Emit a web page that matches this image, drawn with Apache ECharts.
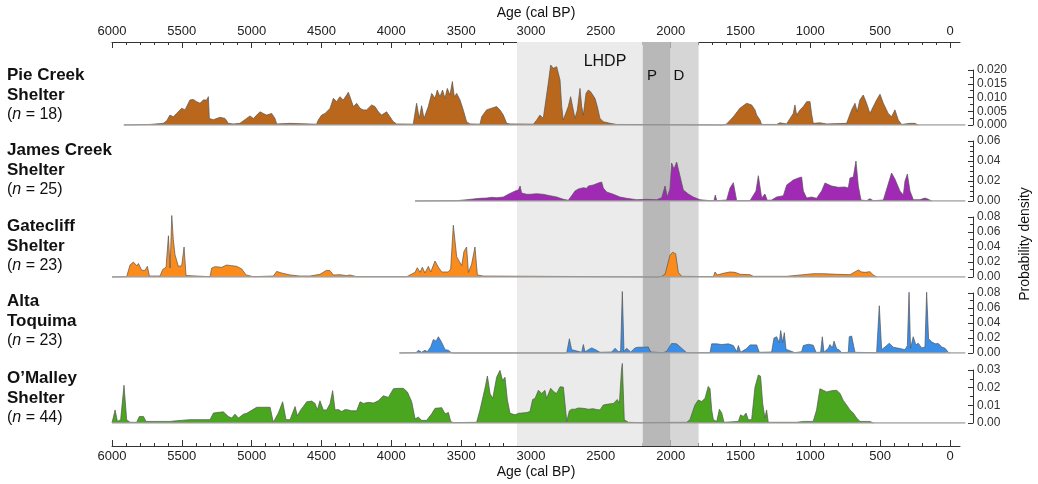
<!DOCTYPE html>
<html>
<head>
<meta charset="utf-8">
<script src="https://cdn.jsdelivr.net/npm/echarts@6/dist/echarts.min.js"></script>
<style>
html, body { margin: 0; padding: 0; background: #fff; }
#chart { width: 1038px; height: 484px; }
</style>
</head>
<body>
<div id="chart"></div>
<script>
// 各遗址概率密度 [年代 cal BP, 密度]
var pieCreek = [
    [5915,0],[5728,0.0002],[5633,0.0006],[5609,0.0015],[5585,0.0036],[5561,0.003],[5537,0.0042],[5501,0.0061],[5477,0.0055],[5442,0.0091],[5418,0.0093],[5394,0.0085],[5370,0.0079],[5346,0.0091],[5322,0.0091],[5310,0.0103],[5303,0.0024],[5275,0.0019],[5227,0.0028],[5191,0.0024],[5167,0.0006],[5131,0.0004],[5084,0.0006],[5036,0.0024],[5012,0.0033],[4988,0.0024],[4964,0.0036],[4940,0.0048],[4917,0.0042],[4893,0.0036],[4857,0.0042],[4833,0.0024],[4821,0.0004],[4726,0.0006],[4535,0.0003],[4523,0.0018],[4499,0.0036],[4475,0.0042],[4439,0.006],[4415,0.0097],[4392,0.0085],[4368,0.0103],[4344,0.0091],[4320,0.0109],[4308,0.0119],[4296,0.0103],[4272,0.0067],[4248,0.0079],[4224,0.0061],[4201,0.0055],[4177,0.0055],[4141,0.0073],[4117,0.0067],[4093,0.0048],[4069,0.0036],[4034,0.0048],[4010,0.003],[3986,0.0012],[3962,0.0004],[3843,0.0003],[3819,0.0079],[3800,0.0024],[3783,0.007],[3766,0.0024],[3735,0.0067],[3711,0.0115],[3699,0.0121],[3687,0.0097],[3671,0.0127],[3652,0.0103],[3633,0.0127],[3616,0.0097],[3599,0.0133],[3580,0.0109],[3563,0.0158],[3549,0.0103],[3532,0.0115],[3508,0.0091],[3485,0.0055],[3461,0.0012],[3437,0.0004],[3365,0.0003],[3353,0.003],[3318,0.0055],[3282,0.0061],[3246,0.0067],[3222,0.0055],[3198,0.0036],[3174,0.0006],[3150,0.0004],[2983,0.0003],[2959,0.0018],[2936,0.0036],[2912,0.0024],[2876,0.0152],[2859,0.0218],[2840,0.0206],[2816,0.0212],[2804,0.0206],[2792,0.0164],[2780,0.0067],[2769,0.0018],[2757,0.0012],[2733,0.0067],[2716,0.0103],[2702,0.0067],[2685,0.0024],[2668,0.0055],[2649,0.0133],[2637,0.0067],[2625,0.0036],[2606,0.0115],[2590,0.0127],[2573,0.0121],[2559,0.0127],[2542,0.0097],[2525,0.0067],[2506,0.0024],[2482,0.0012],[2434,0.0006],[2387,0.0002],[2375,0],[1620,0],[1599,0.0004],[1551,0.003],[1504,0.0061],[1456,0.0079],[1420,0.0073],[1396,0.0055],[1384,0.0036],[1372,0.0042],[1360,0.0018],[1349,0.0002],[1241,0.0002],[1217,0.0008],[1170,0.0004],[1122,0.0042],[1110,0.0073],[1098,0.0036],[1074,0.0055],[1050,0.0067],[1026,0.0085],[1002,0.0085],[991,0.0042],[979,0.0006],[931,0.0008],[883,0.0004],[740,0.0006],[704,0.0055],[680,0.0079],[664,0.0048],[645,0.0091],[621,0.0109],[597,0.0079],[573,0.0042],[549,0.0067],[525,0.0091],[501,0.0112],[477,0.0079],[442,0.0042],[418,0.003],[394,0.0055],[370,0.0018],[346,0.0002],[287,0.0006],[251,0.0006],[227,0]
];
var jamesCreek = [
    [3830,0],[3532,0.0003],[3460,0.0013],[3413,0.002],[3365,0.0027],[3317,0.003],[3281,0.0037],[3245,0.0033],[3198,0.004],[3162,0.0067],[3150,0.008],[3114,0.01],[3090,0.011],[3078,0.015],[3067,0.008],[3031,0.0067],[3007,0.0067],[2959,0.0073],[2912,0.0067],[2864,0.0053],[2816,0.004],[2768,0.0017],[2733,0.0007],[2709,0.0053],[2685,0.01],[2661,0.012],[2649,0.011],[2625,0.0133],[2601,0.0127],[2589,0.015],[2554,0.016],[2518,0.018],[2494,0.019],[2482,0.013],[2458,0.009],[2410,0.0067],[2363,0.004],[2315,0.0027],[2243,0.0013],[2172,0.0017],[2100,0.0013],[2064,0.0033],[2040,0.015],[2024,0.004],[2005,0.012],[1993,0.038],[1976,0.032],[1957,0.039],[1933,0.025],[1909,0.011],[1897,0.012],[1873,0.007],[1838,0.004],[1790,0.0013],[1718,0.0003],[1690,0.0003],[1680,0.006],[1670,0.0003],[1599,0.001],[1575,0.013],[1551,0.0183],[1539,0.019],[1527,0.0003],[1432,0.0003],[1389,0.01],[1372,0.0253],[1360,0.026],[1348,0.003],[1325,0.007],[1308,0.0007],[1277,0.001],[1241,0.004],[1193,0.0053],[1169,0.016],[1157,0.015],[1122,0.021],[1086,0.023],[1062,0.024],[1050,0.01],[1026,0.003],[991,0.004],[955,0.0027],[919,0.01],[895,0.018],[847,0.015],[799,0.0137],[752,0.014],[728,0.013],[716,0.023],[692,0.024],[673,0.04],[656,0.015],[637,0.001],[597,0.0003],[573,0.0023],[549,0.0003],[477,0.001],[453,0.012],[418,0.028],[394,0.022],[358,0.01],[334,0.006],[322,0.02],[305,0.027],[286,0.01],[262,0.0013],[215,0.0013],[179,0.003],[155,0.0017],[143,0.0003],[130,0]
];
var gatecliff = [
    [6000,0],[5895,0.0004],[5871,0.016],[5847,0.02],[5823,0.015],[5811,0.018],[5787,0.0089],[5763,0.0089],[5747,0.0142],[5732,0.0013],[5656,0.0013],[5637,0.01],[5613,0.013],[5596,0.055],[5584,0.012],[5572,0.082],[5561,0.05],[5549,0.03],[5525,0.0142],[5501,0.015],[5484,0.04],[5470,0.002],[5460,0],[5298,0.0004],[5286,0.012],[5262,0.0138],[5214,0.0129],[5179,0.016],[5143,0.0151],[5107,0.0142],[5071,0.0107],[5040,0.0027],[4988,0.0004],[4844,0.0013],[4821,0.0075],[4785,0.0053],[4725,0.0027],[4654,0.0013],[4582,0.0013],[4511,0.0036],[4463,0.0089],[4439,0.0084],[4415,0.0027],[4367,0.0031],[4320,0.0018],[4296,0.0027],[4248,0.0004],[3890,0.0004],[3866,0.0027],[3830,0.0062],[3814,0.0124],[3794,0.0062],[3778,0.013],[3759,0.0053],[3735,0.0142],[3718,0.0067],[3704,0.0053],[3687,0.0213],[3663,0.013],[3639,0.0067],[3592,0.0067],[3575,0.0107],[3556,0.069],[3532,0.027],[3496,0.0151],[3480,0.034],[3461,0.04],[3448,0.006],[3425,0.017],[3401,0.04],[3384,0.0027],[3341,0.0013],[3329,0],[2090,0],[2064,0.0009],[2040,0.0036],[2017,0.02],[2005,0.029],[1986,0.033],[1964,0.031],[1945,0.0062],[1921,0.0009],[1694,0.0004],[1682,0.0067],[1666,0.0027],[1623,0.0049],[1575,0.0067],[1539,0.0062],[1503,0.0036],[1432,0.0031],[1408,0.0009],[1169,0.0009],[1050,0.0031],[978,0.0044],[907,0.0044],[811,0.0036],[716,0.0031],[656,0.0093],[632,0.0067],[609,0.0062],[573,0.0071],[549,0.0027],[525,0]
];
var altaToquima = [
    [3942,0],[3823,0.0004],[3806,0.0036],[3783,0.0009],[3759,0.0036],[3742,0.0018],[3718,0.0081],[3699,0.018],[3680,0.0158],[3663,0.0217],[3651,0.024],[3639,0.014],[3615,0.0045],[3591,0.0036],[3568,0],[2760,0],[2744,0.0004],[2725,0.019],[2709,0.0045],[2637,0.0009],[2625,0.0113],[2613,0.0013],[2589,0.0045],[2565,0.0068],[2530,0.0036],[2506,0.0009],[2422,0.0013],[2398,0.0063],[2374,0.0018],[2358,0.0023],[2346,0.082],[2334,0.002],[2315,0.0063],[2303,0.0082],[2286,0.0013],[2255,0.0068],[2231,0.0077],[2196,0.0077],[2160,0.0081],[2143,0.0013],[2052,0.0004],[2028,0.0023],[1993,0.0127],[1957,0.0122],[1921,0.0063],[1885,0.0004],[1718,0.0004],[1706,0.0122],[1670,0.0122],[1634,0.0113],[1587,0.0122],[1551,0.0099],[1527,0.0018],[1515,0.0099],[1499,0.0009],[1456,0.0059],[1432,0.0108],[1384,0.0108],[1365,0.0009],[1277,0.0013],[1260,0.0199],[1241,0.0217],[1222,0.0136],[1212,0.0299],[1198,0.014],[1186,0.0271],[1174,0.005],[1110,0.0004],[1062,0.0018],[1050,0.0099],[1014,0.0117],[979,0.0104],[959,0.0009],[926,0.0009],[914,0.0217],[902,0.0009],[871,0.0063],[859,0.0113],[842,0.0068],[830,0.0158],[811,0.0054],[795,0.0045],[776,0.0004],[728,0.0009],[721,0.0217],[704,0.0226],[692,0.0217],[680,0.0009],[525,0.0004],[506,0.063],[489,0.0045],[465,0.0081],[434,0.0131],[406,0.0077],[358,0.0059],[322,0.0045],[305,0.0099],[293,0.081],[282,0.0063],[263,0.0217],[244,0.0108],[227,0.0131],[203,0.0068],[179,0.0081],[167,0.081],[153,0.019],[131,0.0149],[107,0.0122],[83,0.0126],[59,0.0081],[35,0.0063],[12,0.0009],[0,0]
];
var oMalley = [
    [6000,0],[5990,0.0009],[5978,0.0074],[5961,0.0009],[5938,0.0019],[5914,0.0214],[5895,0.0019],[5871,0.0004],[5823,0.0004],[5804,0.0037],[5775,0.0037],[5756,0.0009],[5584,0.0009],[5537,0.0013],[5441,0.0019],[5298,0.0019],[5274,0.0056],[5250,0.0059],[5203,0.0063],[5167,0.0037],[5143,0.0028],[5119,0.005],[5095,0.0028],[5059,0.005],[5035,0.0055],[4964,0.0089],[4868,0.0089],[4845,0.0004],[4809,0.0056],[4778,0.012],[4754,0.0019],[4725,0.0019],[4689,0.0093],[4673,0.0041],[4649,0.0074],[4630,0.0093],[4606,0.012],[4570,0.0124],[4546,0.0111],[4530,0.0074],[4511,0.0126],[4487,0.0074],[4463,0.0074],[4439,0.0109],[4420,0.0183],[4403,0.0074],[4379,0.0076],[4355,0.0065],[4331,0.0076],[4308,0.0074],[4284,0.0069],[4248,0.0069],[4224,0.012],[4200,0.0111],[4164,0.0117],[4128,0.0113],[4093,0.0126],[4057,0.0154],[4021,0.0145],[3985,0.0194],[3950,0.0196],[3914,0.0196],[3885,0.0176],[3854,0.012],[3830,0.0024],[3806,0.0033],[3783,0.0015],[3747,0.0015],[3711,0.0052],[3687,0.0083],[3663,0.0085],[3639,0.0087],[3615,0.0052],[3591,0.0059],[3575,0.0009],[3556,0.0002],[3389,0.0004],[3365,0.0074],[3329,0.0198],[3312,0.0266],[3293,0.0167],[3274,0.0139],[3246,0.0259],[3222,0.0298],[3203,0.024],[3186,0.0259],[3169,0.013],[3150,0.0055],[3114,0.0046],[3090,0.0055],[3067,0.0056],[3031,0.0059],[3007,0.0065],[2988,0.0133],[2971,0.0139],[2947,0.0185],[2923,0.0167],[2900,0.0185],[2888,0.0139],[2876,0.0148],[2859,0.0196],[2835,0.0176],[2816,0.0167],[2792,0.0205],[2768,0.0203],[2756,0.0213],[2744,0.0009],[2725,0.0069],[2709,0.0078],[2685,0.0078],[2661,0.0085],[2625,0.0083],[2589,0.0078],[2554,0.0081],[2530,0.0076],[2506,0.0074],[2482,0.0102],[2446,0.0107],[2410,0.0111],[2382,0.0133],[2367,0.0111],[2352,0.03],[2346,0.0337],[2332,0.0019],[2303,0.0004],[2219,0.0002],[1885,0.0004],[1862,0.0019],[1826,0.0102],[1802,0.013],[1778,0.0122],[1754,0.0139],[1731,0.0207],[1718,0.0194],[1706,0.0074],[1694,0.0019],[1670,0.0009],[1651,0.0078],[1634,0.0056],[1618,0.0004],[1515,0.0009],[1499,0.0046],[1480,0.0037],[1460,0.0056],[1444,0.0019],[1420,0.0019],[1396,0.0203],[1372,0.0272],[1356,0.0265],[1341,0.0111],[1325,0.0028],[1313,0.0074],[1301,0.0004],[1098,0.0004],[1050,0.0009],[979,0.0009],[955,0.0074],[931,0.0194],[907,0.0185],[883,0.0176],[847,0.0183],[811,0.0185],[787,0.0167],[764,0.0128],[740,0.0102],[716,0.0074],[692,0.0056],[668,0.0028],[644,0.0009],[597,0.0009],[573,0.0009],[549,0]
];

var siteNames = [['Pie Creek', 'Shelter'], ['James Creek', 'Shelter'], ['Gatecliff', 'Shelter'], ['Alta', 'Toquima'], ['O\u2019Malley', 'Shelter']];
var siteCounts = [18, 25, 23, 23, 44];
var siteData = [pieCreek, jamesCreek, gatecliff, altaToquima, oMalley];
var siteColors = ['#b8671c', '#a12ab4', '#fb8c1c', '#3a8ee8', '#4aa51f'];
var yMax = [0.02, 0.06, 0.08, 0.08, 0.03];
var yStep = [0.005, 0.02, 0.02, 0.02, 0.01];
var yMinorSplit = [2, 4, 2, 2, 2];
var yDigits = [3, 2, 2, 2, 2];
// 时段: LHDP, P, D
var periodBands = [[3100, 2200, '#ebebeb'], [2200, 2000, '#b8b8b8'], [2000, 1800, '#d6d6d6']];

var FONT = 'Liberation Sans, Arial, sans-serif';
var panelTop = [70, 141, 217, 293, 370];
var panelHeight = [55, 60, 60, 60, 53];
var labelY = [75, 150, 226, 301, 378];

var grids = [], xAxes = [], yAxes = [], series = [], graphics = [];

// 0: 轴线网格, 1: 刻度网格
grids.push({ left: 112, right: 78, top: 42, bottom: 38 });
grids.push({ left: 112, right: 88, top: 42, bottom: 38 });

['top', 'bottom'].forEach(function (pos) {
    xAxes.push({
        gridIndex: 0, type: 'value', position: pos, inverse: true, min: -72, max: 6000,
        axisLine: { show: true, onZero: false, lineStyle: { color: '#333', width: 1 } },
        axisTick: { show: false }, axisLabel: { show: false }, splitLine: { show: false }
    });
    xAxes.push({
        gridIndex: 1, type: 'value', position: pos, inverse: true, min: 0, max: 6000, interval: 500,
        axisLine: { show: false, onZero: false },
        axisTick: { show: true, inside: true, length: 6, lineStyle: { color: '#333' } },
        minorTick: { show: true, splitNumber: 5, length: 3, lineStyle: { color: '#333' } },
        axisLabel: {
            margin: 4, fontSize: 13, color: '#222', fontFamily: FONT,
            formatter: function (v) { return String(v); }
        },
        splitLine: { show: false }
    });
});
yAxes.push({ gridIndex: 0, type: 'value', min: 0, max: 1, show: false });
yAxes.push({ gridIndex: 1, type: 'value', min: 0, max: 1, show: false });

series.push({
    type: 'line', xAxisIndex: 1, yAxisIndex: 1, data: [[0, 0]], symbol: 'none',
    lineStyle: { opacity: 0 }, z: 1, silent: true,
    markArea: {
        silent: true, label: { show: false },
        data: periodBands.map(function (b) {
            return [{ xAxis: b[0], itemStyle: { color: b[2] } }, { xAxis: b[1] }];
        })
    }
});

for (var i = 0; i < 5; i++) {
    var g = i + 2;
    grids.push({ left: 112, right: 65, top: panelTop[i], height: panelHeight[i] });
    xAxes.push({ gridIndex: g, type: 'value', inverse: true, min: -165, max: 6000, show: false });
    (function (d) {
        yAxes.push({
            gridIndex: g, type: 'value', position: 'right', min: 0, max: yMax[i], interval: yStep[i],
            axisLine: { show: true, onZero: false, lineStyle: { color: '#333', width: 1 } },
            axisTick: { show: true, inside: true, length: 5, lineStyle: { color: '#333' } },
            minorTick: { show: true, splitNumber: yMinorSplit[i], length: 3, lineStyle: { color: '#333' } },
            splitLine: { show: false },
            axisLabel: {
                margin: 4, fontSize: 12, color: '#333', fontFamily: FONT,
                formatter: function (v) { return v.toFixed(d); }
            }
        });
    })(yDigits[i]);
    var xi = xAxes.length - 1, yi = yAxes.length - 1;
    var pts = siteData[i];
    series.push({
        type: 'line', xAxisIndex: xi, yAxisIndex: yi, data: pts, symbol: 'none',
        clip: false, z: 3,
        lineStyle: { color: '#555', width: 0.7 },
        areaStyle: { color: siteColors[i], opacity: 1 }
    });
    // 零线
    series.push({
        type: 'line', xAxisIndex: xi, yAxisIndex: yi, symbol: 'none', z: 4, silent: true,
        data: [[pts[0][0], 0], [-110, 0]],
        lineStyle: { color: '#a0a0a0', width: 1.3 }
    });

    // 左侧站点名
    graphics.push({ type: 'text', style: { x: 7, y: labelY[i], text: siteNames[i][0], font: 'bold 17px ' + FONT, fill: '#111', verticalAlign: 'middle' } });
    graphics.push({ type: 'text', style: { x: 7, y: labelY[i] + 20, text: siteNames[i][1], font: 'bold 17px ' + FONT, fill: '#111', verticalAlign: 'middle' } });
    graphics.push({
        type: 'text', style: {
            x: 7, y: labelY[i] + 40, text: '{p|(}{i|n}{p| = ' + siteCounts[i] + ')}', verticalAlign: 'middle',
            rich: {
                p: { font: '16px ' + FONT, fill: '#111' },
                i: { font: 'italic 16px ' + FONT, fill: '#111' }
            }
        }
    });
}

graphics.push({ type: 'text', style: { x: 536, y: 13, text: 'Age (cal BP)', font: '14px ' + FONT, fill: '#111', align: 'center', verticalAlign: 'middle' } });
graphics.push({ type: 'text', style: { x: 536, y: 472, text: 'Age (cal BP)', font: '14px ' + FONT, fill: '#111', align: 'center', verticalAlign: 'middle' } });
graphics.push({ type: 'text', x: 1025, y: 244, rotation: Math.PI / 2, style: { x: 0, y: 0, text: 'Probability density', font: '14px ' + FONT, fill: '#111', align: 'center', verticalAlign: 'middle' } });
graphics.push({ type: 'text', z: 10, style: { x: 605, y: 62, text: 'LHDP', font: '16px ' + FONT, fill: '#111', align: 'center', verticalAlign: 'middle' } });
graphics.push({ type: 'text', z: 10, style: { x: 652, y: 76, text: 'P', font: '15px ' + FONT, fill: '#111', align: 'center', verticalAlign: 'middle' } });
graphics.push({ type: 'text', z: 10, style: { x: 679, y: 76, text: 'D', font: '15px ' + FONT, fill: '#111', align: 'center', verticalAlign: 'middle' } });

var chart = echarts.init(document.getElementById('chart'));
chart.setOption({
    animation: false,
    backgroundColor: '#fff',
    grid: grids,
    xAxis: xAxes,
    yAxis: yAxes,
    series: series,
    graphic: graphics
});
</script>
</body>
</html>
